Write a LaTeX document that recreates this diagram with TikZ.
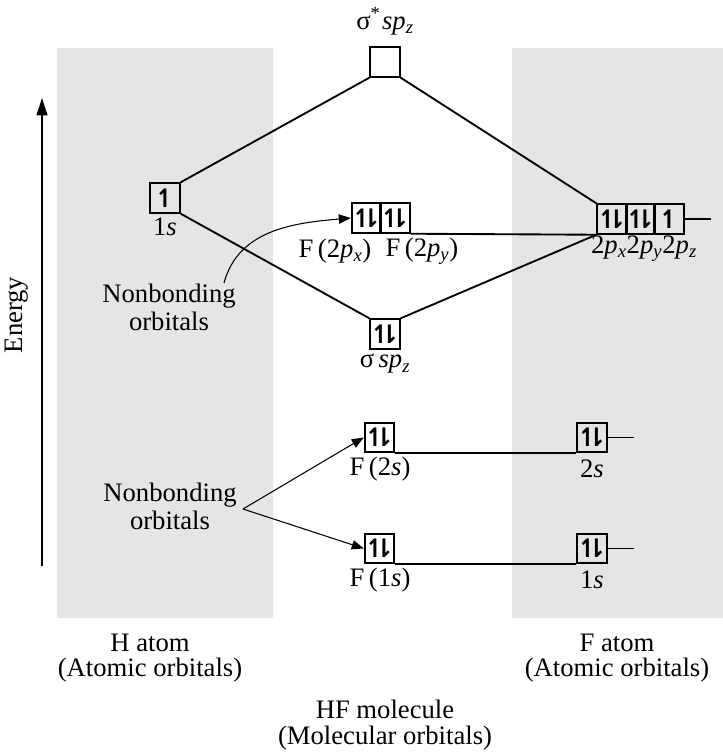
\documentclass[tikz,border=0pt]{standalone}
\usepackage{fontspec}
\setmainfont{Liberation Serif}
\newfontfamily\arrowfont{DejaVu Sans Bold}
\usetikzlibrary{positioning,arrows.meta}
\definecolor{panel}{RGB}{228,229,231}
\newcommand{\spinup}{{\arrowfont\makebox[0.4em]{↿}}}
\newcommand{\spinpr}{{\arrowfont\makebox[0.36em]{↿}\makebox[0.36em]{⇂}}}
\newcommand{\lsub}[1]{\textsubscript{\textit{#1}}}

\begin{document}
\begin{tikzpicture}[x=0.75pt,y=-0.75pt,
    orb_box/.style={draw,line width=1.6pt,minimum size=22pt,inner sep=0pt,font=\fontsize{19}{19}\selectfont},
    lbl/.style={font=\fontsize{20}{19}\selectfont,align=center,inner sep=0pt},
    bond/.style={line width=1.4pt},
    tail/.style={line width=0.8pt},
    note_arrow/.style={line width=0.8pt,-{Triangle[length=9pt,width=7pt]}}]

    \useasboundingbox (0,0) rectangle (723,752);
    \fill[panel] (57,48) rectangle (273,618);
    \fill[panel] (512,48) rectangle (723,618);

    % H atom
    \node[orb_box] (H1s) at (165,198) {\spinup};
    \node[lbl] (H1s_l) at (165,227) {1\textit{s}};

    % molecule
    \node[orb_box] (sigstar) at (385,62) {};
    \node[lbl] (sigstar_l) at (385,21) {σ\textsuperscript{*}\kern1pt\textit{sp}\lsub{z}};
    \node[orb_box] (sig) at (385,334) {\spinpr};
    \node[lbl] (sig_l) at (385,364) {σ\,\textit{sp}\lsub{z}};
    \node[orb_box] (F2px) at (366.5,218) {\spinpr};
    \node[orb_box] (F2py) at (395,218) {\spinpr};
    \node[lbl] (F2px_l) at (335,251) {F\,(2\textit{p}\lsub{x})};
    \node[lbl] (F2py_l) at (422,251) {F\,(2\textit{p}\lsub{y})};
    \node[orb_box] (F2s) at (379.5,437.5) {\spinpr};
    \node[lbl] (F2s_l) at (380,469) {F\,(2\textit{s})};
    \node[orb_box] (F1s) at (379.5,548.5) {\spinpr};
    \node[lbl] (F1s_l) at (380,580) {F\,(1\textit{s})};

    % F atom
    \node[orb_box] (A2pa) at (612,219) {\spinpr};
    \node[orb_box] (A2pb) at (640.5,219) {\spinpr};
    \node[orb_box] (A2pc) at (669,219) {\spinup};
    \node[lbl] (A2p_l) at (644,249) {2\textit{p}\lsub{x}2\textit{p}\lsub{y}2\textit{p}\lsub{z}};
    \node[orb_box] (A2s) at (592,437.5) {\spinpr};
    \node[lbl] (A2s_l) at (592,469) {2\textit{s}};
    \node[orb_box] (A1s) at (592,548.5) {\spinpr};
    \node[lbl] (A1s_l) at (592,580) {1\textit{s}};

    \begin{scope}[every path/.style={bond}]
    \draw (H1s.north east) -- (sigstar.south west);
    \draw (H1s.south east) -- (sig.north west);
    \draw (sigstar.south east) -- (A2pa.north west);
    \draw (sig.north east) -- (A2pa.south west);
    \draw (F2py.south east) -- (A2pa.south west);
    \draw (F2s.south east) -- (A2s.south west);
    \draw (F1s.south east) -- (A1s.south west);
    \end{scope}
    \begin{scope}[every path/.style={tail}]
    \draw (A2pc.east) -- ++(26,0);
    \draw (A2s.east) -- ++(26,0);
    \draw (A1s.east) -- ++(26,0);
    \end{scope}

    % nonbonding notes
    \node[lbl,font=\fontsize{20}{21}\selectfont] (nb_top) at (169,307) {Nonbonding\\orbitals};
    \node[lbl,font=\fontsize{20}{21}\selectfont] (nb_bot) at (170,506) {Nonbonding\\orbitals};
    \coordinate (nb_top_s) at (224,283);
    \coordinate (nb_bot_s) at (243,509);
    \draw[note_arrow] (nb_top_s) to[out=75,in=185] (F2px.west);
    \draw[note_arrow] (nb_bot_s) -- (F2s.west);
    \draw[note_arrow] (nb_bot_s) -- (F1s.west);

    % energy axis
    \coordinate (e_low) at (42,566);
    \coordinate (e_high) at (42,98);
    \draw[line width=1.4pt,-{Triangle[length=13pt,width=8pt]}] (e_low) -- (e_high);
    \node[lbl,rotate=90] (energy) at (17,315) {Energy};

    % captions
    \node[lbl] (h_cap) at (150,658) {H atom\\(Atomic orbitals)};
    \node[lbl] (f_cap) at (617,658) {F atom\\(Atomic orbitals)};
    \node[lbl] (hf_cap) at (385,725) {HF molecule\\(Molecular orbitals)};
\end{tikzpicture}
\end{document}
